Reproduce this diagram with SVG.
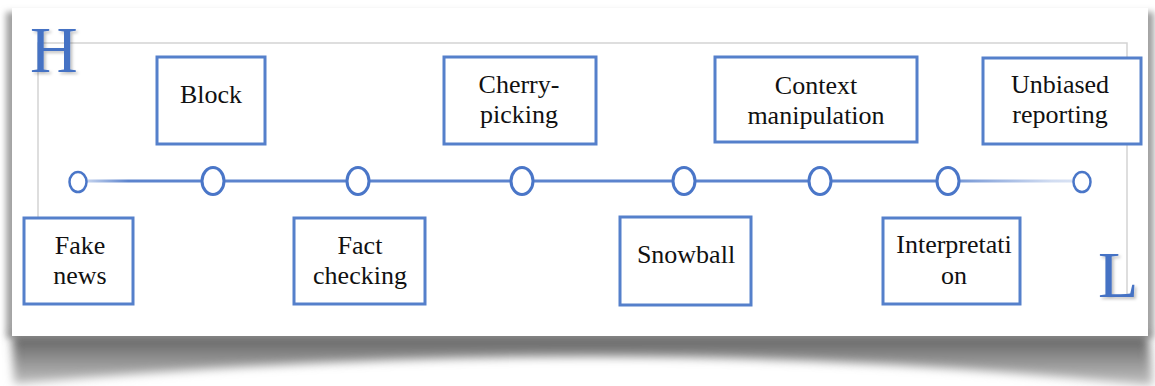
<svg xmlns="http://www.w3.org/2000/svg" width="1155" height="386" viewBox="0 0 1155 386">
  <defs>
    <filter id="soft" x="-10%" y="-30%" width="120%" height="160%">
      <feGaussianBlur stdDeviation="5"/>
    </filter>
    <filter id="edge" x="-5%" y="-5%" width="110%" height="110%">
      <feGaussianBlur stdDeviation="3"/>
    </filter>
    <filter id="letterShadow" x="-20%" y="-20%" width="150%" height="150%">
      <feDropShadow dx="2" dy="2" stdDeviation="1.5" flood-color="#000" flood-opacity="0.25"/>
    </filter>
    <linearGradient id="axisFade" gradientUnits="userSpaceOnUse" x1="78" y1="0" x2="1082" y2="0">
      <stop offset="0" stop-color="#4a76c8" stop-opacity="0.2"/>
      <stop offset="0.05" stop-color="#4a76c8" stop-opacity="0.9"/>
      <stop offset="0.85" stop-color="#4a76c8" stop-opacity="0.9"/>
      <stop offset="0.97" stop-color="#4a76c8" stop-opacity="0.25"/>
      <stop offset="1" stop-color="#4a76c8" stop-opacity="0.2"/>
    </linearGradient>
    <linearGradient id="shadowTone" x1="0" y1="0" x2="0" y2="1">
      <stop offset="0" stop-color="#5e5e5e"/>
      <stop offset="0.45" stop-color="#8c8c8c"/>
      <stop offset="1" stop-color="#c4c4c4"/>
    </linearGradient>
  </defs>
  <style>
    .box { fill: #ffffff; stroke: #5580cb; stroke-width: 3; }
    .label { font-family: "Liberation Serif", "Times New Roman", serif; font-size: 26px; fill: #111; text-anchor: middle; }
    .big { font-family: "Liberation Serif", "Times New Roman", serif; font-size: 66px; fill: #4472c4; }
    .frame { fill: none; stroke: #d4d4d4; stroke-width: 1.5; }
    .node { fill: #ffffff; stroke: #4a76c8; stroke-width: 3; }
    .end { fill: #ffffff; stroke: #4a76c8; stroke-width: 2.5; }
  </style>

  <!-- page background -->
  <rect x="0" y="0" width="1155" height="386" fill="#ffffff"/>

  <!-- card shadows -->
  <rect x="6" y="12" width="1148" height="326" fill="#a0a0a0" filter="url(#edge)"/>
  <path d="M 12 334 L 1148 334 L 1153 386 Q 620 328 14 384 Z" fill="url(#shadowTone)" filter="url(#soft)"/>

  <!-- card -->
  <rect x="12" y="8" width="1136" height="328" fill="#ffffff"/>

  <!-- frame lines -->
  <g id="frame">
    <polyline class="frame" points="38,217 38,43 1127,43 1127,297"/>
  </g>

  <!-- scale letters -->
  <text class="big" x="30" y="72" filter="url(#letterShadow)">H</text>
  <text class="big" x="1098" y="297" filter="url(#letterShadow)">L</text>

  <!-- timeline axis -->
  <g id="connectors">
    <line x1="87" y1="181" x2="1073" y2="181" stroke="url(#axisFade)" stroke-width="3"/>
  </g>

  <!-- timeline points -->
  <g id="points">
    <ellipse class="end" cx="78" cy="182" rx="8.5" ry="10"/>
    <ellipse class="node" cx="213" cy="181" rx="11" ry="13.5"/>
    <ellipse class="node" cx="358" cy="181" rx="11" ry="13.5"/>
    <ellipse class="node" cx="522" cy="181" rx="11" ry="13.5"/>
    <ellipse class="node" cx="684" cy="181" rx="11" ry="13.5"/>
    <ellipse class="node" cx="820" cy="181" rx="11" ry="13.5"/>
    <ellipse class="node" cx="948" cy="181" rx="11" ry="13.5"/>
    <ellipse class="end" cx="1082" cy="182" rx="8.5" ry="10"/>
  </g>

  <!-- upper labels -->
  <g id="block">
    <rect class="box" x="157" y="57" width="108" height="87"/>
    <text class="label" x="211" y="103">Block</text>
  </g>
  <g id="cherry-picking">
    <rect class="box" x="444" y="57" width="152" height="87"/>
    <text class="label" x="519" y="93">Cherry-</text>
    <text class="label" x="519" y="123">picking</text>
  </g>
  <g id="context-manipulation">
    <rect class="box" x="715" y="57" width="202" height="85"/>
    <text class="label" x="816" y="94">Context</text>
    <text class="label" x="816" y="124">manipulation</text>
  </g>
  <g id="unbiased-reporting">
    <rect class="box" x="983" y="58" width="158" height="86"/>
    <text class="label" x="1060" y="93">Unbiased</text>
    <text class="label" x="1060" y="123">reporting</text>
  </g>

  <!-- lower labels -->
  <g id="fake-news">
    <rect class="box" x="24" y="218" width="109" height="86"/>
    <text class="label" x="80" y="254">Fake</text>
    <text class="label" x="80" y="284">news</text>
  </g>
  <g id="fact-checking">
    <rect class="box" x="294" y="218" width="131" height="86"/>
    <text class="label" x="360" y="254">Fact</text>
    <text class="label" x="360" y="284">checking</text>
  </g>
  <g id="snowball">
    <rect class="box" x="620" y="217" width="131" height="88"/>
    <text class="label" x="686" y="263">Snowball</text>
  </g>
  <g id="interpretation">
    <rect class="box" x="883" y="218" width="137" height="86"/>
    <text class="label" x="954" y="253">Interpretati</text>
    <text class="label" x="954" y="284">on</text>
  </g>
</svg>
